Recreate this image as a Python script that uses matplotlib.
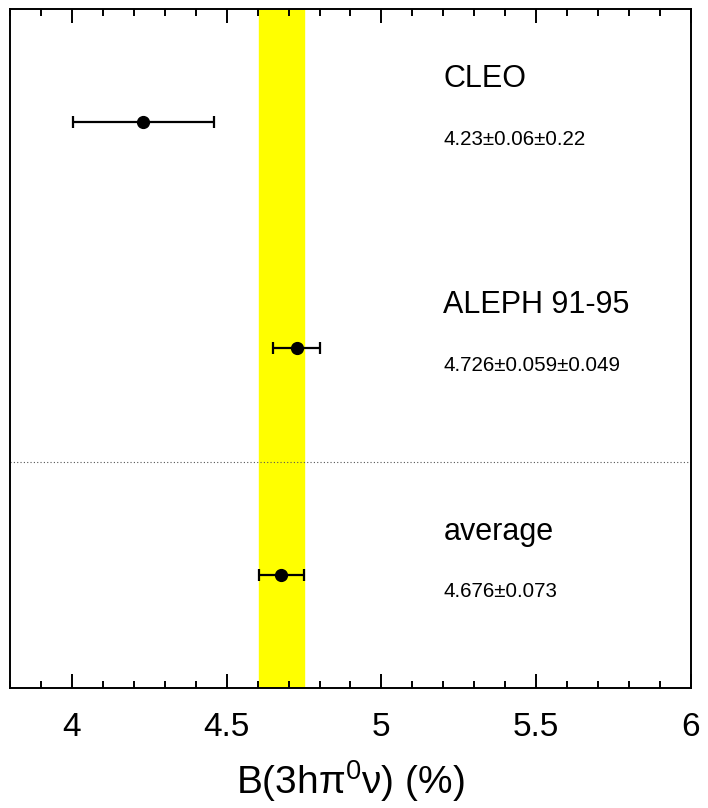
import matplotlib.pyplot as plt
from matplotlib.ticker import MultipleLocator

plt.rcParams['font.family'] = ['Liberation Sans', 'DejaVu Sans']
plt.rcParams['mathtext.default'] = 'regular'

# measurements (top to bottom)
names = ["CLEO", "ALEPH 91-95", "average"]
values = [4.23, 4.726, 4.676]
stat_err = [0.06, 0.059, 0.073]
syst_err = [0.22, 0.049, 0.0]
value_text = ["4.23\u00b10.06\u00b10.22", "4.726\u00b10.059\u00b10.049", "4.676\u00b10.073"]
ypos = [2.5, 1.5, 0.5]

avg = 4.676
avg_err = 0.073

tot_err = [(s**2 + t**2) ** 0.5 for s, t in zip(stat_err, syst_err)]

fig = plt.figure(figsize=(7.08, 8.08), dpi=100)
ax = fig.add_axes([0.0141, 0.1485, 0.9619, 0.8404])

ax.axvspan(avg - avg_err, avg + avg_err, color='#ffff00', zorder=1)
ax.axhline(1.0, color='#555555', linestyle=(0, (1, 2)), linewidth=0.8, zorder=2)

ax.errorbar(values, ypos, xerr=tot_err, fmt='o', color='black', markersize=8.5,
            elinewidth=1.6, capsize=4.3, capthick=1.6, zorder=3)

for n, vt, y in zip(names, value_text, ypos):
    ax.text(5.2, y + 0.19, n, fontsize=22, va='center', ha='left')
    ax.text(5.2, y - 0.075, vt, fontsize=14.8, va='center', ha='left')

ax.set_xlim(3.8, 6.0)
ax.set_ylim(0, 3)
ax.xaxis.set_minor_locator(MultipleLocator(0.1))
ax.set_xticks([4, 4.5, 5, 5.5, 6])
ax.set_xticklabels(["4", "4.5", "5", "5.5", "6"])
ax.tick_params(axis='x', which='both', direction='in', top=True, bottom=True,
               labelsize=24, pad=17)
ax.tick_params(axis='x', which='major', length=10, width=1.4)
ax.tick_params(axis='x', which='minor', length=5, width=1.4)
ax.set_yticks([])
for sp in ax.spines.values():
    sp.set_linewidth(1.4)

ax.set_xlabel("B(3h\u03c0$^{0}$\u03bd) (%)", fontsize=28, labelpad=11)

fig.savefig("out.png", dpi=100)
